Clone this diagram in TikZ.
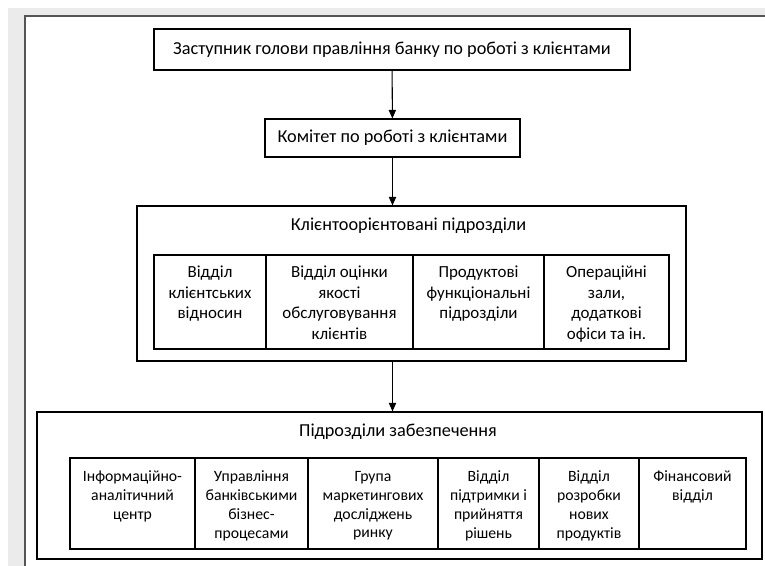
\documentclass[tikz,border=0pt]{standalone}
\usepackage{fontspec}
\setmainfont{Carlito}
\usetikzlibrary{arrows.meta,positioning}
\definecolor{pagegray}{HTML}{EBEBEB}
\definecolor{framegray}{HTML}{555555}
\tikzset{
  box/.style={draw=black,line width=0.8pt,fill=white,inner sep=0pt,font=\fontsize{13.7}{16}\selectfont},
  group/.style={draw=black,line width=0.8pt,inner sep=0pt},
  gtitle/.style={inner sep=0pt,font=\fontsize{13.7}{16}\selectfont},
  cell/.style={draw=black,line width=0.8pt,inner sep=0pt},
  ctext/.style={align=center,inner sep=0pt,font=\fontsize{12.7}{15.4}\selectfont},
  link/.style={-{Triangle[length=6.5pt,width=5.5pt]},line width=0.8pt},
}

\begin{document}
\begin{tikzpicture}[x=0.75pt,y=-0.75pt]
  % page edge
  \useasboundingbox (0,0) rectangle (765,566);
  \fill[pagegray] (8,8) rectangle (765,566);
  \fill[white] (25,16) rectangle (765,566);
  \draw[framegray,line width=1.5pt] (25,566) -- (25,16) -- (765,16);

  % head and committee
  \node[box,minimum width=357pt,minimum height=30.75pt] (dep) at (392,49.5)
    {Заступник голови правління банку по роботі з клієнтами};
  \node[box,minimum width=191.25pt,minimum height=28.5pt] (kom) at (392.5,138)
    {Комітет по роботі з клієнтами};

  % client-oriented units
  \node[group,minimum width=411.75pt,minimum height=116.25pt] (kli) at (411.5,283.5) {};
  \node[gtitle] (klit) at (408.5,226) {Клієнтоорієнтовані підрозділи};
  \foreach \n/\a/\b/\t in {1/154/266/{Відділ\\клієнтських\\відносин},
      2/266/413/{Відділ оцінки\\якості\\обслуговування\\клієнтів},
      3/413/544/{Продуктові\\функціональні\\підрозділи},
      4/544/669/{Операційні\\зали,\\додаткові\\офіси та ін.}} {
    \node[cell,minimum width=(\b-\a)*0.75pt,minimum height=70.5pt] (k\n) at ({(\a+\b)/2},302) {};
    \node[ctext,below=8.5pt of k\n.north] (kt\n) {\t};
  }

  % support units
  \node[group,minimum width=543.75pt,minimum height=110.25pt] (sup) at (399.5,485.5) {};
  \node[gtitle] (supt) at (398,432) {Підрозділи забезпечення};
  \foreach \n/\a/\b/\t in {1/70/195/{Інформаційно-\\аналітичний\\центр},
      2/195/308/{Управління\\банківськими\\бізнес-\\процесами},
      3/308/438/{Група\\маркетингових\\досліджень\\ринку},
      4/438/539/{Відділ\\підтримки і\\прийняття\\рішень},
      5/539/639/{Відділ\\розробки\\нових\\продуктів},
      6/639/746/{Фінансовий\\відділ}} {
    \node[cell,minimum width=(\b-\a)*0.75pt,minimum height=68.25pt] (s\n) at ({(\a+\b)/2},503.5) {};
    \node[ctext,font=\fontsize{11.8}{14.2}\selectfont,below=10pt of s\n.north] (st\n) {\t};
  }

  \draw[link] (dep) -- (kom);
  \draw[link] (kom.south) -- (kom.south |- kli.north);
  \draw[link] (kom.south |- kli.south) -- (kom.south |- sup.north);
\end{tikzpicture}
\end{document}
